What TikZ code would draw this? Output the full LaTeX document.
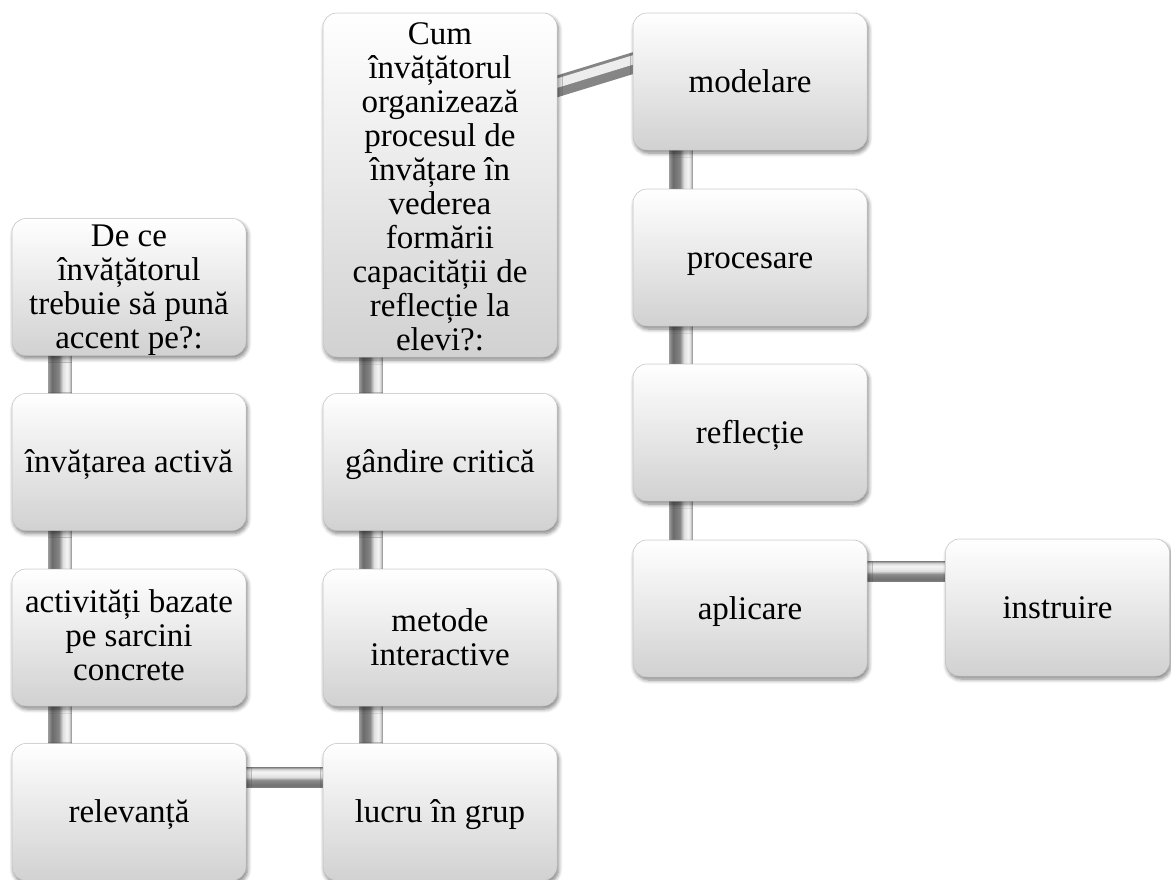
\documentclass[tikz,border=0pt]{standalone}
\usepackage{fontspec}
\setmainfont{Liberation Serif}
\usetikzlibrary{calc,shadows,shadows.blur}

% cylinder-like shading for the vertical and horizontal rods
\pgfdeclarehorizontalshading{rodv}{100bp}{color(0bp)=(black!40); color(25bp)=(black!40);
  color(33bp)=(black!58); color(48bp)=(black!48); color(57bp)=(black!12);
  color(66bp)=(black!4); color(71bp)=(black!14); color(75bp)=(black!40); color(100bp)=(black!40)}
\pgfdeclareverticalshading{rodh}{100bp}{color(0bp)=(black!50); color(25bp)=(black!50);
  color(32bp)=(black!55); color(44bp)=(black!45); color(52bp)=(black!12);
  color(64bp)=(black!4); color(71bp)=(black!15); color(75bp)=(black!40); color(100bp)=(black!40)}

\pgfdeclarelayer{bg}
\pgfsetlayers{bg,main}

\tikzset{
  card/.style={rectangle, rounded corners=14pt, minimum width=234pt, minimum height=137pt,
    inner sep=2pt, align=center, top color=white, bottom color=black!18,
    draw=black!24, line width=0.5pt,
    blur shadow={shadow xshift=1.5pt, shadow yshift=-3pt, shadow blur radius=4pt,
      shadow blur steps=6, shadow opacity=50},
    font=\fontsize{33}{34}\selectfont, text=black,
    text height=21pt, text depth=0pt},
  % height above the last baseline for cards with several lines
  multi/.style={text height=#1, text depth=0pt},
  vrod/.style={shading=rodv},
  hrod/.style={shading=rodh},
}

\begin{document}
\begin{tikzpicture}[x=1pt,y=1pt]
\useasboundingbox (0,0) rectangle (1171,-879);

% left column
\node[card, multi=122pt] (q1) at (129,-287) {De ce\\ învățătorul\\ trebuie să pună\\ accent pe?:};
\node[card] (l1) at (129,-462) {învățarea activă};
\node[card, multi=86pt] (l2) at (129,-637.5) {activități bazate\\ pe sarcini\\ concrete};
\node[card] (l3) at (129,-812) {relevanță};

% middle column
\node[card, minimum height=344pt, multi=330pt] (q2) at (440,-185)
  {Cum\\ învățătorul\\ organizează\\ procesul de\\ învățare în\\ vederea\\ formării\\ capacității de\\ reflecție la\\ elevi?:};
\node[card] (m1) at (440,-462) {gândire critică};
\node[card, multi=55pt] (m2) at (440,-637.5) {metode\\ interactive};
\node[card] (m3) at (440,-812) {lucru în grup};

% right column
\node[card] (r1) at (750,-81.5) {modelare};
\node[card] (r2) at (750,-257.5) {procesare};
\node[card] (r3) at (750,-432.5) {reflecție};
\node[card] (r4) at (750,-608.5) {aplicare};
\node[card, minimum width=224pt] (r5) at (1057.5,-607.5) {instruire};

% rods behind the cards
\begin{pgfonlayer}{bg}
  \foreach \a/\b in {q1/l1, l1/l2, l2/l3, q2/m1, m1/m2, m2/m3, r1/r2, r2/r3, r3/r4}{
    \shade[vrod] ($(\a.south west)+(36.5,8)$) rectangle ($(\b.north west)+(59.5,-8)$);
  }
  \shade[hrod] ($(l3.north east)+(-8,-24.5)$) rectangle ($(m3.north west)+(8,-44.5)$);
  \shade[hrod] ($(r4.north east)+(-8,-22)$) rectangle ($(r5.north west)+(8,-43)$);
  % slanted rod from the big question to the first step
  \draw[line width=21pt, black!48] ($(q2.north east)+(-8,-76)$) -- ($(r1.north west)+(8,-48)$);
  \draw[line width=9pt, black!7] ($(q2.north east)+(-7,-72.5)$) -- ($(r1.north west)+(9,-44.5)$);
\end{pgfonlayer}
\end{tikzpicture}
\end{document}
